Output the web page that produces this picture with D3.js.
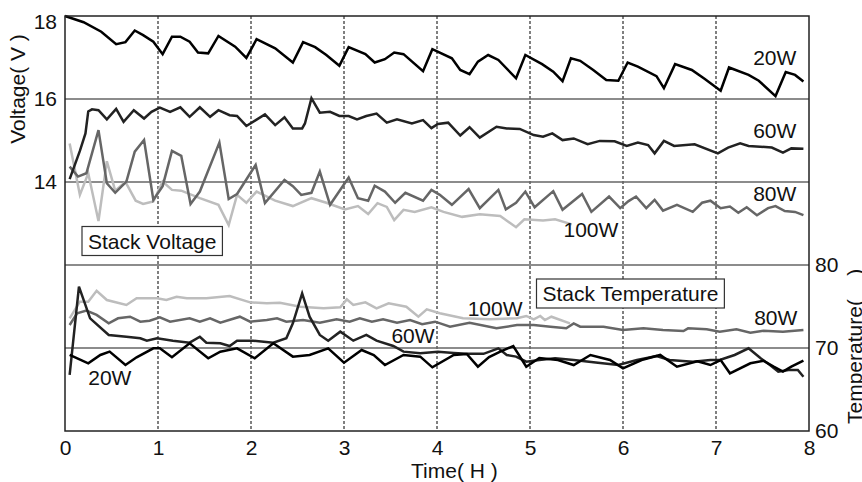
<!DOCTYPE html>
<html>
<head>
<meta charset="utf-8">
<script src="https://cdn.jsdelivr.net/npm/d3@7"></script>
<style>
  body { margin: 0; background: #fff; }
  text { font-family: "Liberation Sans", Arial, sans-serif; fill: #111; }
</style>
</head>
<body>
<div id="chart"></div>
<script>
// tick values
var xTicks = [0, 1, 2, 3, 4, 5, 6, 7, 8];
var vTicks = [14, 16, 18];
var tTicks = [60, 70, 80];
var vGrid = [16, 14, 12];
var tGrid = [70];

// stack voltage [time h, V]
var v20W = [[0,18.0],[0.2,17.85],[0.39,17.62],[0.55,17.32],[0.65,17.37],[0.75,17.65],[0.84,17.54],[0.95,17.38],[1.05,17.08],[1.15,17.5],[1.24,17.5],[1.34,17.38],[1.43,17.12],[1.54,17.1],[1.65,17.52],[1.83,17.26],[1.95,16.99],[2.06,17.44],[2.26,17.22],[2.45,16.88],[2.56,17.37],[2.69,17.25],[2.81,17.06],[2.95,16.8],[3.05,17.25],[3.23,17.08],[3.33,16.88],[3.44,16.96],[3.54,17.12],[3.64,17.08],[3.85,16.67],[3.95,17.2],[4.16,16.98],[4.25,16.7],[4.35,16.6],[4.44,16.9],[4.55,17.06],[4.66,16.94],[4.85,16.5],[4.95,17.06],[5.13,16.84],[5.25,16.66],[5.35,16.43],[5.44,16.98],[5.54,16.92],[5.68,16.7],[5.82,16.46],[5.95,16.44],[6.05,16.88],[6.16,16.78],[6.36,16.55],[6.44,16.26],[6.56,16.84],[6.74,16.7],[6.88,16.48],[7.05,16.2],[7.14,16.76],[7.35,16.58],[7.46,16.44],[7.64,16.07],[7.75,16.65],[7.85,16.58],[7.94,16.42]];
var v60W = [[0.05,14.07],[0.16,14.75],[0.22,15.17],[0.25,15.7],[0.29,15.75],[0.36,15.73],[0.45,15.51],[0.55,15.76],[0.63,15.45],[0.74,15.73],[0.85,15.53],[0.93,15.69],[1.02,15.79],[1.13,15.69],[1.24,15.8],[1.34,15.57],[1.45,15.8],[1.56,15.57],[1.65,15.73],[1.77,15.61],[1.85,15.59],[1.95,15.35],[2.15,15.63],[2.26,15.37],[2.36,15.56],[2.45,15.29],[2.55,15.29],[2.58,15.41],[2.65,16.02],[2.74,15.67],[2.85,15.69],[2.95,15.59],[3.05,15.59],[3.14,15.51],[3.24,15.59],[3.35,15.65],[3.46,15.43],[3.57,15.51],[3.73,15.41],[3.85,15.49],[3.94,15.3],[4.01,15.4],[4.12,15.43],[4.25,15.12],[4.35,15.32],[4.46,15.07],[4.64,15.33],[4.75,15.29],[4.89,15.28],[5.04,15.13],[5.14,15.09],[5.24,15.17],[5.35,15.01],[5.47,15.05],[5.62,14.91],[5.75,14.99],[5.91,14.98],[6.04,14.87],[6.16,14.95],[6.27,14.89],[6.34,14.69],[6.44,14.99],[6.55,14.87],[6.77,14.91],[7.02,14.69],[7.13,14.83],[7.26,14.93],[7.35,14.87],[7.6,14.83],[7.72,14.71],[7.81,14.81],[7.94,14.8]];
var v80W = [[0.05,14.37],[0.14,14.13],[0.23,14.21],[0.36,15.25],[0.45,13.97],[0.54,13.74],[0.66,14.01],[0.75,14.73],[0.85,15.01],[0.95,13.57],[1.05,13.9],[1.15,14.75],[1.25,14.63],[1.35,13.47],[1.45,13.77],[1.66,14.95],[1.76,13.59],[1.85,13.71],[2.05,14.41],[2.15,13.49],[2.36,14.05],[2.45,13.9],[2.54,13.69],[2.65,13.74],[2.74,14.25],[2.85,13.45],[3.05,14.11],[3.15,13.61],[3.26,13.55],[3.33,13.91],[3.44,13.77],[3.55,13.5],[3.66,13.74],[3.85,13.55],[3.94,13.81],[4.03,13.69],[4.16,13.45],[4.34,13.83],[4.46,13.37],[4.66,13.81],[4.74,13.34],[4.85,13.5],[4.95,13.77],[5.05,13.39],[5.25,13.78],[5.35,13.33],[5.56,13.71],[5.66,13.28],[5.85,13.65],[5.97,13.37],[6.06,13.54],[6.14,13.65],[6.25,13.37],[6.34,13.57],[6.43,13.31],[6.58,13.45],[6.75,13.28],[6.85,13.5],[6.94,13.55],[7.05,13.37],[7.15,13.41],[7.24,13.26],[7.33,13.39],[7.44,13.2],[7.56,13.37],[7.64,13.42],[7.74,13.3],[7.85,13.28],[7.94,13.2]];
var v100W = [[0.05,14.93],[0.16,13.69],[0.25,14.21],[0.36,13.06],[0.45,14.5],[0.54,13.79],[0.65,14.0],[0.76,13.55],[0.84,13.47],[0.95,13.53],[1.05,14.01],[1.15,13.81],[1.25,13.79],[1.45,13.61],[1.65,13.45],[1.76,12.96],[1.85,13.69],[1.95,13.5],[2.06,13.77],[2.26,13.55],[2.45,13.42],[2.65,13.61],[2.81,13.5],[3.01,13.34],[3.15,13.42],[3.26,13.23],[3.36,13.49],[3.46,13.4],[3.54,13.08],[3.64,13.33],[3.76,13.28],[3.94,13.39],[4.07,13.28],[4.27,13.16],[4.46,13.22],[4.68,13.18],[4.85,12.91],[4.94,13.1],[5.14,13.07],[5.27,13.1],[5.45,12.98]];

// stack temperature [time h, degC]
var t20W = [[0.05,69.16],[0.25,68.16],[0.38,69.16],[0.48,69.56],[0.65,67.95],[0.77,68.88],[0.95,69.96],[1.02,69.96],[1.15,68.88],[1.34,70.57],[1.54,68.76],[1.67,69.56],[1.85,69.96],[2.04,68.76],[2.24,70.57],[2.45,68.96],[2.63,69.16],[2.83,69.96],[3.0,68.23],[3.19,69.76],[3.32,69.16],[3.44,67.95],[3.64,69.16],[3.82,68.96],[3.95,67.67],[4.18,69.16],[4.32,69.28],[4.44,67.75],[4.56,68.9],[4.68,69.56],[4.82,70.24],[4.96,67.75],[5.1,68.8],[5.3,68.55],[5.47,67.95],[5.65,69.16],[5.86,68.55],[6.0,67.55],[6.2,68.55],[6.4,69.16],[6.58,67.75],[6.8,68.4],[6.94,67.95],[7.05,68.55],[7.15,66.95],[7.37,68.16],[7.51,68.47],[7.62,67.75],[7.72,67.15],[7.81,67.75],[7.94,68.47]];
var t60W = [[0.05,66.75],[0.15,77.39],[0.27,73.57],[0.47,71.57],[0.66,71.36],[0.81,71.17],[0.88,70.88],[0.99,71.17],[1.16,70.88],[1.34,70.64],[1.45,71.36],[1.52,70.64],[1.67,70.57],[1.77,70.24],[1.85,70.88],[2.02,70.88],[2.24,70.64],[2.38,71.17],[2.45,72.98],[2.55,76.59],[2.63,73.77],[2.74,71.57],[2.83,70.88],[2.96,71.97],[3.1,70.88],[3.24,71.57],[3.35,70.88],[3.53,70.24],[3.64,69.56],[3.82,69.36],[4.01,69.56],[4.18,69.4],[4.32,69.3],[4.5,69.3],[4.66,69.96],[4.75,69.16],[4.85,68.96],[4.96,68.35],[5.1,68.55],[5.27,68.76],[5.47,68.55],[5.73,68.23],[5.95,67.95],[6.15,68.55],[6.36,69.04],[6.5,68.55],[6.75,68.35],[6.94,68.55],[7.04,68.55],[7.2,69.16],[7.35,69.96],[7.48,68.76],[7.58,67.95],[7.67,67.15],[7.78,67.35],[7.88,67.35],[7.94,66.54]];
var t80W = [[0.05,72.77],[0.13,74.18],[0.23,74.5],[0.34,73.98],[0.47,72.97],[0.57,73.58],[0.7,73.77],[0.81,73.17],[0.91,73.29],[1.02,73.7],[1.13,73.17],[1.34,73.58],[1.45,73.17],[1.56,73.58],[1.67,73.05],[1.88,73.77],[1.99,73.17],[2.17,73.37],[2.28,73.58],[2.38,73.17],[2.56,73.37],[2.74,73.05],[2.92,73.46],[3.06,73.17],[3.17,73.58],[3.3,73.17],[3.42,73.46],[3.57,73.05],[3.71,73.37],[3.84,72.86],[3.98,73.17],[4.14,72.57],[4.35,73.05],[4.64,72.37],[4.86,72.77],[5.04,72.77],[5.22,72.57],[5.39,72.37],[5.47,72.97],[5.54,72.57],[5.79,72.57],[6.0,72.17],[6.22,72.37],[6.43,72.17],[6.65,72.05],[6.7,72.37],[6.9,72.25],[7.04,71.97],[7.22,72.25],[7.37,71.85],[7.51,72.08],[7.72,71.97],[7.94,72.17]];
var t100W = [[0.05,73.57],[0.16,75.58],[0.25,75.58],[0.34,76.9],[0.45,75.78],[0.66,75.18],[0.77,75.99],[0.99,75.99],[1.09,75.78],[1.2,76.18],[1.31,75.99],[1.52,75.99],[1.77,76.27],[1.99,75.5],[2.17,75.38],[2.31,75.46],[2.53,74.98],[2.78,74.78],[2.96,74.9],[3.03,75.86],[3.1,75.18],[3.23,75.5],[3.35,74.78],[3.48,75.38],[3.67,74.98],[3.8,73.77],[3.89,74.66],[4.03,74.18],[4.28,73.58],[4.57,73.46],[4.86,73.58],[4.96,73.86],[5.04,73.46],[5.11,73.86],[5.16,73.37],[5.23,73.77],[5.43,72.97]];

var width = 862, height = 482;
var margin = {left: 65, right: 53, top: 16, bottom: 51};

var svg = d3.select("#chart")
    .append("svg")
    .attr("width", width)
    .attr("height", height);

svg.append("rect").attr("width", width).attr("height", height).attr("fill", "#fff");

var x = d3.scaleLinear().domain([0, 8]).range([margin.left, width - margin.right]);
var yV = d3.scaleLinear().domain([8, 18]).range([height - margin.bottom, margin.top]);
var yT = d3.scaleLinear().domain([60, 80]).range([height - margin.bottom, yV(12)]);

// vertical dashed grid
svg.append("g")
    .selectAll("line")
    .data(xTicks.slice(1, -1))
    .enter()
    .append("line")
    .attr("x1", function (d) { return x(d); })
    .attr("x2", function (d) { return x(d); })
    .attr("y1", yV(18))
    .attr("y2", yV(8))
    .attr("stroke", "#000")
    .attr("stroke-width", 1)
    .attr("stroke-dasharray", "3,2");

// horizontal grid
svg.append("g")
    .selectAll("line")
    .data(vGrid)
    .enter()
    .append("line")
    .attr("x1", x(0)).attr("x2", x(8))
    .attr("y1", function (d) { return yV(d); })
    .attr("y2", function (d) { return yV(d); })
    .attr("stroke", "#666")
    .attr("stroke-width", 1.5);

svg.append("g")
    .selectAll("line")
    .data(tGrid)
    .enter()
    .append("line")
    .attr("x1", x(0)).attr("x2", x(8))
    .attr("y1", function (d) { return yT(d); })
    .attr("y2", function (d) { return yT(d); })
    .attr("stroke", "#666")
    .attr("stroke-width", 1.5);

// lines
var lineV = d3.line().x(function (d) { return x(d[0]); }).y(function (d) { return yV(d[1]); });
var lineT = d3.line().x(function (d) { return x(d[0]); }).y(function (d) { return yT(d[1]); });

var series = [
    {data: v100W, line: lineV, color: "#bdbdbd"},
    {data: v80W, line: lineV, color: "#666"},
    {data: v60W, line: lineV, color: "#222"},
    {data: v20W, line: lineV, color: "#000"},
    {data: t100W, line: lineT, color: "#bdbdbd"},
    {data: t80W, line: lineT, color: "#666"},
    {data: t60W, line: lineT, color: "#222"},
    {data: t20W, line: lineT, color: "#000"}
];

svg.append("g")
    .selectAll("path")
    .data(series)
    .enter()
    .append("path")
    .attr("d", function (d) { return d.line(d.data); })
    .attr("fill", "none")
    .attr("stroke", function (d) { return d.color; })
    .attr("stroke-width", 2.5);

// frame
svg.append("rect")
    .attr("x", x(0))
    .attr("y", yV(18))
    .attr("width", x(8) - x(0))
    .attr("height", yV(8) - yV(18))
    .attr("fill", "none")
    .attr("stroke", "#222")
    .attr("stroke-width", 1.5);

// axes
var fontSize = "21px";

var xAxis = svg.append("g")
    .attr("transform", "translate(0," + yV(8) + ")")
    .call(d3.axisBottom(x).tickValues(xTicks).tickSize(0).tickPadding(9).tickFormat(d3.format("d")));
xAxis.select(".domain").remove();

var yAxisL = svg.append("g")
    .attr("transform", "translate(" + (x(0) - 8) + ",0)")
    .call(d3.axisLeft(yV).tickValues(vTicks).tickSize(0).tickPadding(0).tickFormat(d3.format("d")));
yAxisL.select(".domain").remove();
yAxisL.selectAll(".tick").attr("transform", function (d) {
    return "translate(0," + Math.max(yV(d), yV(18) + 6) + ")";
});

var yAxisR = svg.append("g")
    .attr("transform", "translate(" + (x(8) + 6) + ",0)")
    .call(d3.axisRight(yT).tickValues(tTicks).tickSize(0).tickPadding(0).tickFormat(d3.format("d")));
yAxisR.select(".domain").remove();

svg.selectAll(".tick text")
    .attr("font-size", fontSize)
    .attr("font-family", "'Liberation Sans', Arial, sans-serif")
    .attr("fill", "#111");

// axis titles
svg.append("text")
    .attr("x", 411)
    .attr("y", 478)
    .style("text-anchor", "start")
    .attr("font-size", fontSize)
    .text("Time( H )");

svg.append("text")
    .attr("transform", "translate(25," + 89 + ") rotate(-90)")
    .style("text-anchor", "middle")
    .attr("font-size", fontSize)
    .text("Voltage( V )");

svg.append("text")
    .attr("transform", "translate(862," + 424 + ") rotate(-90)")
    .style("text-anchor", "start")
    .attr("font-size", fontSize)
    .text("Temperature(\u00a0\u00a0\u00a0\u00a0)");

// series labels
var labels = [
    {text: "20W", x: x(7.4), y: yV(16.82)},
    {text: "60W", x: x(7.4), y: yV(15.05)},
    {text: "80W", x: x(7.4), y: yV(13.54)},
    {text: "100W", x: x(5.36), y: yV(12.68)},
    {text: "100W", x: x(4.33), y: yT(73.86)},
    {text: "80W", x: x(7.41), y: yT(72.77)},
    {text: "60W", x: x(3.51), y: yT(70.57)},
    {text: "20W", x: x(0.25), y: yT(65.54)}
];

svg.append("g")
    .selectAll("text")
    .data(labels)
    .enter()
    .append("text")
    .attr("x", function (d) { return d.x; })
    .attr("y", function (d) { return d.y; })
    .attr("font-size", fontSize)
    .text(function (d) { return d.text; });

// boxed titles
function boxLabel(txt, tx, ty) {
    var g = svg.append("g");
    var t = g.append("text")
        .attr("x", tx)
        .attr("y", ty)
        .attr("font-size", fontSize)
        .text(txt);
    var bb = t.node().getBBox();
    g.insert("rect", "text")
        .attr("x", bb.x - 6)
        .attr("y", bb.y - 3)
        .attr("width", bb.width + 12)
        .attr("height", bb.height + 6)
        .attr("fill", "#fff")
        .attr("stroke", "#333")
        .attr("stroke-width", 1.2);
}

boxLabel("Stack Voltage", 88, 248.5);
boxLabel("Stack Temperature", 542.5, 301);
</script>
</body>
</html>
